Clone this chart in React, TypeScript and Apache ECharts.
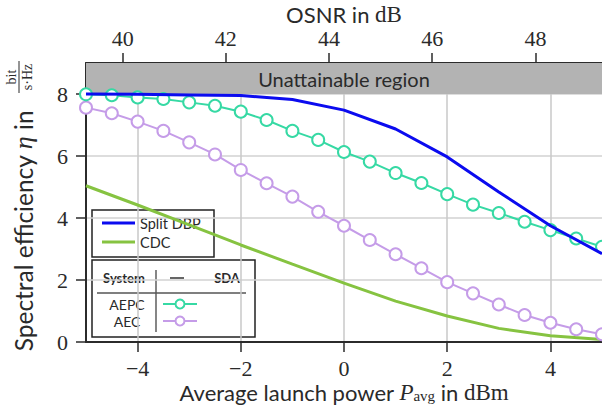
import React, { useEffect, useRef } from "react";
import * as echarts from "echarts";

// ---- data ----
const powerTicks = [-4, -2, 0, 2, 4];
const osnrTicks = [40, 42, 44, 46, 48];
const effTicks = [0, 2, 4, 6, 8];
const osnrOffset = 44.29; // OSNR (dB) = launch power (dBm) + offset
const powerMin = -5;
const powerMax = 5;
const effMin = 0;
const effMax = 9;
const unattainableFrom = 8;

const powerDBP = [-5, -4, -3, -2, -1, 0, 1, 2, 3, 4, 5];
const splitDBP = [8.0, 7.99, 7.97, 7.95, 7.82, 7.48, 6.87, 5.97, 4.84, 3.75, 2.85];
const cdc = [5.04, 4.42, 3.78, 3.13, 2.51, 1.9, 1.32, 0.84, 0.44, 0.2, 0.08];

const powerSDA = [-5, -4.5, -4, -3.5, -3, -2.5, -2, -1.5, -1, -0.5, 0, 0.5, 1, 1.5, 2, 2.5, 3, 3.5, 4, 4.5, 5];
const aepc = [7.99, 7.96, 7.89, 7.84, 7.73, 7.62, 7.43, 7.16, 6.81, 6.52, 6.13, 5.82, 5.45, 5.13, 4.77, 4.43, 4.16, 3.88, 3.61, 3.34, 3.07];
const aec = [7.56, 7.38, 7.11, 6.81, 6.44, 6.05, 5.55, 5.12, 4.69, 4.2, 3.75, 3.29, 2.83, 2.38, 1.93, 1.57, 1.21, 0.87, 0.62, 0.41, 0.25];

const C_BLUE = "#0b0bef";
const C_GREEN = "#86c341";
const C_TEAL = "#36d9a4";
const C_PURPLE = "#c59ce8";
const C_TEXT = "#2a2a2a";
const SANS = "Lato";
const SERIF = "Liberation Serif";

const zip = (xs: number[], ys: number[]) => xs.map((x, i) => [x, ys[i]]);
const fmtNum = (v: number) => (v < 0 ? "\u2212" + Math.abs(v) : String(v));

export default function App() {
  const ref = useRef<HTMLDivElement>(null);
  useEffect(() => {
    const chart = echarts.init(ref.current!, null, { renderer: "svg" });
    const axisLine = { show: true, onZero: false, lineStyle: { color: "#2b2b2b", width: 2 } };
    const tickStyle = { color: "#2b2b2b", width: 1.5 };
    const option: any = {
      animation: false,
      grid: { left: 86, right: 0, top: 63, bottom: 64, containLabel: false, outerBoundsMode: "none" },
      xAxis: [
        {
          type: "value",
          min: powerMin,
          max: powerMax,
          position: "bottom",
          axisLine,
          axisTick: { show: true, length: 10, customValues: powerTicks, lineStyle: tickStyle },
          axisLabel: { customValues: powerTicks, formatter: fmtNum, fontFamily: SERIF, fontSize: 22, color: C_TEXT, margin: 15 },
          splitLine: { show: true, lineStyle: { color: "#c8c8c8", width: 1.5 } },
          name: "{a|Average launch power }{p|P}{s|avg}{a| in }{d|dBm}",
          nameLocation: "middle",
          nameMoveOverlap: false,
          nameGap: 38,
          nameTextStyle: {
            rich: {
              a: { fontFamily: SANS, fontSize: 22, color: C_TEXT, lineHeight: 24 },
              p: { fontFamily: SERIF, fontStyle: "italic", fontSize: 23, color: C_TEXT, lineHeight: 24 },
              s: { fontFamily: SERIF, fontSize: 15, color: C_TEXT, lineHeight: 14, padding: [7, 0, 0, 0] },
              d: { fontFamily: SERIF, fontSize: 23, color: C_TEXT, lineHeight: 24 },
            },
          },
        },
        {
          type: "value",
          min: powerMin + osnrOffset,
          max: powerMax + osnrOffset,
          position: "top",
          axisLine,
          axisTick: { show: true, length: 10, customValues: osnrTicks, lineStyle: tickStyle },
          axisLabel: { customValues: osnrTicks, fontFamily: SERIF, fontSize: 22, lineHeight: 18, color: C_TEXT, margin: 16 },
          splitLine: { show: false },
          name: "{a|OSNR in }{d|dB}",
          nameLocation: "middle",
          nameMoveOverlap: false,
          nameGap: 38,
          nameTextStyle: {
            rich: {
              a: { fontFamily: SANS, fontSize: 22, color: C_TEXT, lineHeight: 22 },
              d: { fontFamily: SERIF, fontSize: 23, color: C_TEXT, lineHeight: 22 },
            },
          },
        },
      ],
      yAxis: {
        type: "value",
        min: effMin,
        max: effMax,
        axisLine,
        axisTick: { show: true, length: 10, customValues: effTicks, lineStyle: tickStyle },
        axisLabel: { customValues: effTicks, fontFamily: SERIF, fontSize: 22, color: C_TEXT, margin: 18 },
        splitLine: { show: true, lineStyle: { color: "#d2d2d2", width: 1.5 } },
      },
      series: [
        {
          name: "CDC",
          type: "line",
          data: zip(powerDBP, cdc),
          symbol: "none",
          lineStyle: { color: C_GREEN, width: 3 },
          itemStyle: { color: C_GREEN },
          z: 3,
        },
        {
          name: "AEC",
          type: "line",
          data: zip(powerSDA, aec),
          symbol: "emptyCircle",
          symbolSize: 12,
          lineStyle: { color: C_PURPLE, width: 2 },
          itemStyle: { color: C_PURPLE, borderWidth: 2 },
          z: 4,
        },
        {
          name: "AEPC",
          type: "line",
          data: zip(powerSDA, aepc),
          symbol: "emptyCircle",
          symbolSize: 12,
          lineStyle: { color: C_TEAL, width: 2 },
          itemStyle: { color: C_TEAL, borderWidth: 2 },
          z: 5,
        },
        {
          name: "Split DBP",
          type: "line",
          data: zip(powerDBP, splitDBP),
          symbol: "none",
          lineStyle: { color: C_BLUE, width: 3 },
          itemStyle: { color: C_BLUE },
          z: 6,
          markArea: {
            silent: true,
            itemStyle: { color: "#b3b3b3" },
            label: { show: true, position: "inside", color: C_TEXT, fontFamily: SANS, fontSize: 20 },
            data: [[
              { name: "Unattainable region", xAxis: powerMin, yAxis: unattainableFrom },
              { xAxis: powerMax, yAxis: effMax },
            ]],
          },
        },
      ],
      graphic: [
        // y-axis title
        {
          type: "text",
          x: 23,
          y: 231,
          rotation: Math.PI / 2,
          z: 100,
          style: {
            text: "{a|Spectral efficiency }{e|\u03b7}{a| in}",
            align: "center",
            verticalAlign: "middle",
            rich: {
              a: { fontFamily: SANS, fontSize: 24.5, fill: C_TEXT },
              e: { fontFamily: SERIF, fontStyle: "italic", fontSize: 26, fill: C_TEXT },
            },
          },
        },
        {
          type: "group",
          x: 19,
          y: 77,
          rotation: Math.PI / 2,
          z: 100,
          children: [
            { type: "text", x: 0, y: -7.5, style: { text: "bit", fontFamily: SERIF, fontSize: 14, fill: C_TEXT, align: "center", verticalAlign: "middle" } },
            { type: "line", shape: { x1: -16, y1: 0, x2: 16, y2: 0 }, style: { stroke: C_TEXT, lineWidth: 1 } },
            { type: "text", x: 0, y: 8.5, style: { text: "s\u00b7Hz", fontFamily: SERIF, fontSize: 14, fill: C_TEXT, align: "center", verticalAlign: "middle" } },
          ],
        },
        // legend box 1
        {
          type: "group",
          z: 100,
          children: [
            { type: "rect", shape: { x: 92, y: 210, width: 122, height: 47 }, style: { fill: "rgba(255,255,255,0.8)", stroke: "#222", lineWidth: 1.5 } },
            { type: "line", shape: { x1: 102, y1: 223, x2: 135, y2: 223 }, style: { stroke: C_BLUE, lineWidth: 3 } },
            { type: "text", x: 140, y: 223, style: { text: "Split DBP", fontFamily: SANS, fontSize: 14.5, fill: C_TEXT, verticalAlign: "middle" } },
            { type: "line", shape: { x1: 102, y1: 242, x2: 135, y2: 242 }, style: { stroke: C_GREEN, lineWidth: 3 } },
            { type: "text", x: 140, y: 242, style: { text: "CDC", fontFamily: SANS, fontSize: 14.5, fill: C_TEXT, verticalAlign: "middle" } },
          ],
        },
        // legend box 2 (table)
        {
          type: "group",
          z: 100,
          children: [
            { type: "rect", shape: { x: 92, y: 260, width: 163, height: 77 }, style: { fill: "rgba(255,255,255,0.85)", stroke: "#222", lineWidth: 1.5 } },
            { type: "text", x: 124, y: 278, style: { text: "System", fontFamily: SANS, fontWeight: "bold", fontSize: 13, fill: C_TEXT, align: "center", verticalAlign: "middle" } },
            { type: "line", shape: { x1: 156, y1: 270, x2: 156, y2: 332 }, style: { stroke: "#444", lineWidth: 1.3 } },
            { type: "line", shape: { x1: 170, y1: 278, x2: 184, y2: 278 }, style: { stroke: "#555", lineWidth: 1.8 } },
            { type: "text", x: 227, y: 278, style: { text: "SDA", fontFamily: SANS, fontWeight: "bold", fontSize: 13, fill: C_TEXT, align: "center", verticalAlign: "middle" } },
            { type: "line", shape: { x1: 97, y1: 293, x2: 246, y2: 293 }, style: { stroke: "#555", lineWidth: 1.3 } },
            { type: "text", x: 127, y: 304, style: { text: "AEPC", fontFamily: SANS, fontSize: 14, fill: C_TEXT, align: "center", verticalAlign: "middle" } },
            { type: "text", x: 127, y: 321, style: { text: "AEC", fontFamily: SANS, fontSize: 14, fill: C_TEXT, align: "center", verticalAlign: "middle" } },
            { type: "line", shape: { x1: 163, y1: 304, x2: 197, y2: 304 }, style: { stroke: C_TEAL, lineWidth: 2 } },
            { type: "circle", shape: { cx: 180, cy: 304, r: 4.5 }, style: { stroke: C_TEAL, fill: "#fff", lineWidth: 2 } },
            { type: "line", shape: { x1: 163, y1: 321, x2: 197, y2: 321 }, style: { stroke: C_PURPLE, lineWidth: 2 } },
            { type: "circle", shape: { cx: 180, cy: 321, r: 4.5 }, style: { stroke: C_PURPLE, fill: "#fff", lineWidth: 2 } },
          ],
        },
      ],
    };
    chart.setOption(option);
    return () => chart.dispose();
  }, []);
  return <div ref={ref} style={{ position: "absolute", left: 0, top: 0, width: 602, height: 406 }} />;
}
